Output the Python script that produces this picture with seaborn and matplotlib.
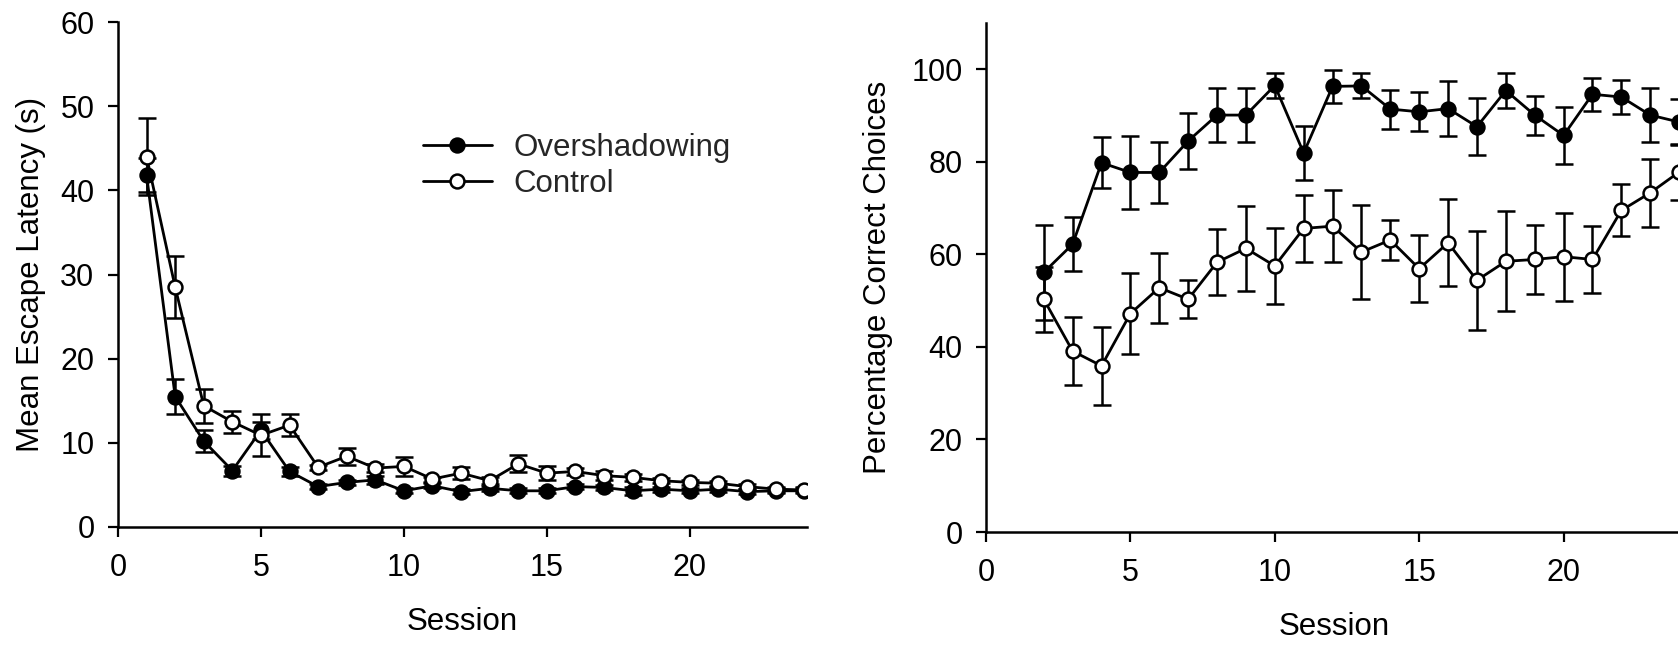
import numpy as np
import pandas as pd
import matplotlib
matplotlib.use("Agg")
import matplotlib.pyplot as plt
import seaborn as sns
from matplotlib.lines import Line2D

# ---------------- data ----------------
sessions_left = list(range(1, 25))
latency_over = [41.8, 15.5, 10.2, 6.7, 11.5, 6.6, 4.8, 5.3, 5.6, 4.3, 4.9, 4.2,
                4.6, 4.3, 4.3, 4.8, 4.7, 4.3, 4.5, 4.3, 4.5, 4.2, 4.3, 4.3]
latency_over_err = [2.0, 2.1, 1.3, 0.6, 1.0, 0.5, 0.3, 0.3, 0.5, 0.3, 0.3, 0.3,
                    0.3, 0.3, 0.3, 0.3, 0.3, 0.5, 0.3, 0.3, 0.3, 0.3, 0.3, 0.3]
latency_ctrl = [44.0, 28.5, 14.4, 12.5, 10.9, 12.1, 7.1, 8.4, 7.0, 7.2, 5.7, 6.4,
                5.5, 7.5, 6.4, 6.6, 6.1, 5.9, 5.5, 5.3, 5.2, 4.8, 4.5, 4.4]
latency_ctrl_err = [4.6, 3.7, 2.0, 1.3, 2.5, 1.3, 0.3, 1.0, 0.5, 1.1, 0.3, 0.7,
                    0.4, 1.0, 0.8, 0.4, 0.5, 0.4, 0.3, 0.3, 0.3, 0.3, 0.3, 0.3]

sessions_right = list(range(2, 25))
pct_over = [56.1, 62.2, 79.8, 77.7, 77.7, 84.5, 90.1, 90.1, 96.5, 81.9, 96.3, 96.4,
            91.4, 90.8, 91.5, 87.6, 95.4, 90.1, 85.7, 94.6, 94.0, 90.1, 88.6]
pct_over_err = [10.2, 5.9, 5.5, 7.8, 6.5, 6.1, 5.9, 5.9, 2.7, 5.9, 3.6, 2.7,
                4.2, 4.2, 6.0, 6.1, 3.7, 4.2, 6.1, 3.6, 3.7, 5.8, 5.0]
pct_ctrl = [50.3, 39.1, 35.9, 47.2, 52.8, 50.3, 58.3, 61.3, 57.5, 65.6, 66.1, 60.5,
            63.1, 56.9, 62.5, 54.4, 58.5, 58.9, 59.5, 58.9, 69.5, 73.3, 77.8]
pct_ctrl_err = [7.0, 7.3, 8.4, 8.7, 7.6, 4.1, 7.1, 9.2, 8.2, 7.2, 7.8, 10.2,
                4.3, 7.2, 9.4, 10.7, 10.8, 7.4, 9.5, 7.2, 5.6, 7.3, 6.0]

group_names = ["Overshadowing", "Control"]
left_ylabel = "Mean Escape Latency (s)"
right_ylabel = "Percentage Correct Choices"
xlabel = "Session"
x_ticks = [0, 5, 10, 15, 20]
left_yticks = [0, 10, 20, 30, 40, 50, 60]
right_yticks = [0, 20, 40, 60, 80, 100]

# ---------------- style ----------------
sns.set_theme(style="ticks")
plt.rcParams["font.family"] = ["Liberation Sans", "DejaVu Sans"]

W, H = 1678, 647
fig = plt.figure(figsize=(W / 100, H / 100), dpi=100)

ax1 = fig.add_axes([118 / W, 1 - 527 / H, 689 / W, 505 / H])
ax2 = fig.add_axes([986 / W, 1 - 532 / H, 696 / W, 509 / H])

lw = 2.0
ms = 10
mew = 1.8
fs_tick = 22
fs_label = 22.5
styles = {
    "Overshadowing": dict(mfc="black", mec="black"),
    "Control": dict(mfc="white", mec="black"),
}


def draw(ax, x, series):
    for z, (name, y, e) in enumerate(series):
        ax.errorbar(x, y, yerr=e, fmt="none", ecolor="black", elinewidth=1.8,
                    capsize=6.5, capthick=1.8, zorder=2 + 2 * z)
        df = pd.DataFrame({"Session": x, "val": y})
        sns.lineplot(data=df, x="Session", y="val", ax=ax, color="black",
                     linewidth=lw, marker="o", markersize=ms,
                     markerfacecolor=styles[name]["mfc"],
                     markeredgecolor=styles[name]["mec"],
                     markeredgewidth=mew, zorder=3 + 2 * z, legend=False)


draw(ax1, sessions_left, [("Overshadowing", latency_over, latency_over_err),
                          ("Control", latency_ctrl, latency_ctrl_err)])
draw(ax2, sessions_right, [("Overshadowing", pct_over, pct_over_err),
                           ("Control", pct_ctrl, pct_ctrl_err)])

for ax, yt, ylim in [(ax1, left_yticks, (0, 60)), (ax2, right_yticks, (0, 110))]:
    ax.set_xlim(0, 24.1)
    ax.set_ylim(*ylim)
    ax.set_xticks(x_ticks)
    ax.set_yticks(yt)
    sns.despine(ax=ax)
    for s in ["left", "bottom"]:
        ax.spines[s].set_linewidth(1.8)
        ax.spines[s].set_color("black")
    ax.tick_params(axis="both", direction="out", length=7, width=1.6,
                   labelsize=fs_tick, colors="black")
    ax.tick_params(axis="x", pad=12)
    ax.tick_params(axis="y", pad=10)
    ax.set_xlabel(xlabel, fontsize=fs_label, color="black")

ax1.set_ylabel(left_ylabel, fontsize=fs_label, color="black")
ax2.set_ylabel(right_ylabel, fontsize=fs_label, color="black")
ax1.yaxis.set_label_coords(-0.104, 0.5)
ax2.yaxis.set_label_coords(-0.134, 0.5)
ax1.xaxis.set_label_coords(0.5, -0.158)
ax2.xaxis.set_label_coords(0.5, -0.158)

handles = [
    Line2D([], [], color="black", linewidth=lw, marker="o", markersize=ms,
           markerfacecolor=styles[n]["mfc"], markeredgecolor="black",
           markeredgewidth=mew)
    for n in group_names
]
fig.legend(handles, group_names, loc="upper left",
           bbox_to_anchor=(423 / W, 1 - 133 / H), frameon=False,
           fontsize=fs_label, handlelength=2.2, handletextpad=0.7,
           labelspacing=0.2, borderpad=0, borderaxespad=0)

fig.savefig("out.png", dpi=100, facecolor="white")
